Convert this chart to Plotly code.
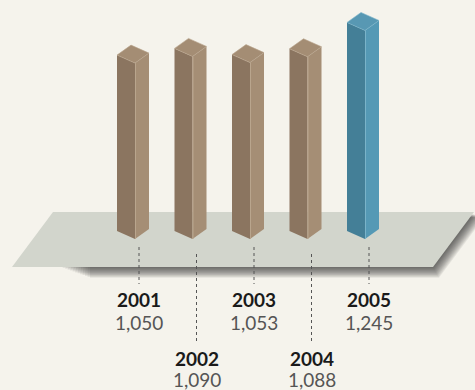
import plotly.graph_objects as go

# ---- data ----
years = ["2001", "2002", "2003", "2004", "2005"]
values = [1050, 1090, 1053, 1088, 1245]
value_labels = ["1,050", "1,090", "1,053", "1,088", "1,245"]
highlight = [False, False, False, False, True]

# ---- layout constants (pixels) ----
W, H = 475, 390
X0_PX = 135.0      # pixel x of first bar front edge
SLOT_PX = 57.5     # pixel spacing between bars
BASE_PX = 239.0    # pixel y of value zero
K = 0.1675         # pixels per unit

xr = [(0 - X0_PX) / SLOT_PX, (W - X0_PX) / SLOT_PX]
yr = [-(H - BASE_PX) / K, BASE_PX / K]


def px(xp, yp):
    """pixel -> data coordinates"""
    return (xp - X0_PX) / SLOT_PX, (BASE_PX - yp) / K


def off(i, v, dx, dy):
    """data point (i, v) shifted by pixel offsets dx (right), dy (down)"""
    return i + dx / SLOT_PX, v - dy / K


palette = {
    False: dict(left="#8b7560", right="#a58e75", top="#a48d74", edge="#b9a58d"),
    True: dict(left="#447f97", right="#5599b5", top="#5898b3", edge="#7ab3c9"),
}

fig = go.Figure()


def poly(pts, color, line_color=None, lw=0):
    xs = [p[0] for p in pts] + [pts[0][0]]
    ys = [p[1] for p in pts] + [pts[0][1]]
    fig.add_trace(go.Scatter(
        x=xs, y=ys, mode="lines", fill="toself", fillcolor=color,
        line=dict(color=line_color or color, width=lw),
        hoverinfo="skip", showlegend=False))


# ---- floor shadow + floor (decoration) ----
for j in range(1, 13):
    o = j
    pts = [px(90, 214), px(473 + o * 0.9, 214 + o * 0.3),
           px(433 + o * 0.5, 267 + o * 0.9), px(60 + o * 2.5, 267 + o * 0.9)]
    poly(pts, "rgba(35,35,35,0.08)")
poly([px(53, 212), px(474, 212), px(433, 267), px(12, 267)], "#d2d5cc")

# ---- bars ----
LW, LD = 18, 8    # left face width / drop
RW, RR = 14, 10   # right face width / rise
for i, (v, hl) in enumerate(zip(values, highlight)):
    c = palette[hl]
    left = [off(i, 0, 0, 0), off(i, v, 0, 0), off(i, v, -LW, -LD), off(i, 0, -LW, -LD)]
    right = [off(i, 0, 0, 0), off(i, v, 0, 0), off(i, v, RW, -RR), off(i, 0, RW, -RR)]
    top = [off(i, v, 0, 0), off(i, v, -LW, -LD), off(i, v, RW - LW, -LD - RR), off(i, v, RW, -RR)]
    poly(left, c["left"])
    poly(right, c["right"])
    poly(top, c["top"], c["edge"], 0.6)
    # light front edge
    fig.add_trace(go.Scatter(
        x=[off(i, 0, 0.5, 0)[0], off(i, v, 0.5, 0)[0]],
        y=[off(i, 0, 0.5, 0)[1], off(i, v, 0.5, 0)[1]],
        mode="lines", line=dict(color=c["edge"], width=1),
        hoverinfo="skip", showlegend=False))

# ---- leader lines and labels ----
annotations = []
for i, (yr_lbl, vl) in enumerate(zip(years, value_labels)):
    lower = (i % 2 == 1)
    y_start = 254 if lower else 247
    y_end = 341 if lower else 284
    lx = off(i, 0, 4, 0)[0]
    fig.add_trace(go.Scatter(
        x=[lx, lx], y=[px(0, y_start)[1], px(0, y_end)[1]],
        mode="lines", line=dict(color="#555555", width=1, dash="dot"),
        hoverinfo="skip", showlegend=False))
    ty = 358 if lower else 299
    vy = 379 if lower else 322
    annotations.append(dict(x=lx, y=px(0, ty)[1], xref="x", yref="y",
                            text="<b>%s</b>" % yr_lbl, showarrow=False,
                            font=dict(family="Lato", size=19, color="#1a1a1a"),
                            xanchor="center", yanchor="middle"))
    annotations.append(dict(x=lx, y=px(0, vy)[1], xref="x", yref="y",
                            text=vl, showarrow=False,
                            font=dict(family="Lato", size=19, color="#555555"),
                            xanchor="center", yanchor="middle"))

fig.update_layout(
    width=W, height=H,
    margin=dict(l=0, r=0, t=0, b=0),
    paper_bgcolor="#f5f3ec", plot_bgcolor="#f5f3ec",
    xaxis=dict(range=xr, visible=False, fixedrange=True),
    yaxis=dict(range=yr, visible=False, fixedrange=True),
    annotations=annotations,
    showlegend=False,
)

fig.write_html("out.html", config={"displayModeBar": False})
